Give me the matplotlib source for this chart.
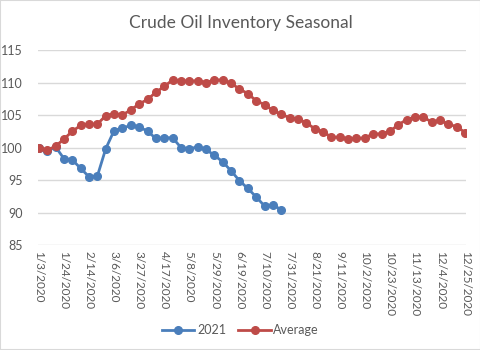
import numpy as np
import matplotlib.pyplot as plt
import pandas as pd

plt.rcParams['font.family'] = ['Lato', 'DejaVu Sans']

# weekly categories, 2020
dates = pd.date_range('2020-01-03', periods=52, freq='7D')
date_labels = [f'{d.month}/{d.day}/{d.year}' for d in dates]

avg = [100.0, 99.6, 100.2, 101.3, 102.5, 103.4, 103.6, 103.6, 104.9, 105.2,
       105.0, 105.8, 106.7, 107.4, 108.5, 109.4, 110.4, 110.3, 110.2, 110.3,
       110.0, 110.4, 110.4, 109.9, 109.0, 108.3, 107.2, 106.6, 105.7, 105.1,
       104.6, 104.4, 103.8, 102.9, 102.4, 101.6, 101.6, 101.3, 101.4, 101.5,
       102.1, 102.1, 102.5, 103.5, 104.3, 104.7, 104.7, 103.9, 104.2, 103.6,
       103.2, 102.3]
y2021 = [100.0, 99.4, 100.1, 98.3, 98.1, 96.8, 95.5, 95.6, 99.8, 102.6,
         103.0, 103.4, 103.2, 102.5, 101.4, 101.5, 101.5, 100.0, 99.8, 100.1,
         99.7, 98.8, 97.8, 96.4, 94.9, 93.7, 92.4, 91.0, 91.2, 90.4]

blue = '#4A7EBB'
red = '#BE4B48'

fig = plt.figure(figsize=(4.81, 3.5), dpi=100)
ax = fig.add_axes([38/481, 0.3, 428/481, 0.557])

x = np.arange(len(dates))
ax.plot(x[:len(y2021)], y2021, color=blue, lw=2, marker='o', ms=5.5, label='2021')
ax.plot(x, avg, color=red, lw=2, marker='o', ms=5.5, label='Average')

ax.set_ylim(85, 115)
ax.set_yticks(range(85, 116, 5))
ax.set_xlim(-0.1, 51.1)
ax.set_xticks(x[::3])
ax.set_xticklabels(date_labels[::3], rotation=-90, fontsize=8.5, color='#595959')
ax.tick_params(axis='y', labelsize=9, labelcolor='#595959', length=0, pad=11)
ax.tick_params(axis='x', length=0, pad=4)
ax.grid(axis='y', color='#d9d9d9', lw=1)
ax.set_axisbelow(True)
for s in ax.spines.values():
    s.set_visible(False)

fig.text(0.5, 0.935, 'Crude Oil Inventory Seasonal', ha='center', va='center',
         fontsize=12.5, color='#595959')
fig.legend(loc='center', bbox_to_anchor=(0.5, 0.057), ncol=2, frameon=False,
           fontsize=9, labelcolor='#595959', handlelength=2.6, columnspacing=1.0,
           handletextpad=0.2)

fig.patches.append(plt.Rectangle((0, 0), 1, 1, transform=fig.transFigure,
                                 fill=False, edgecolor='#d9d9d9', lw=1.5))

fig.savefig('out.png', dpi=100)
